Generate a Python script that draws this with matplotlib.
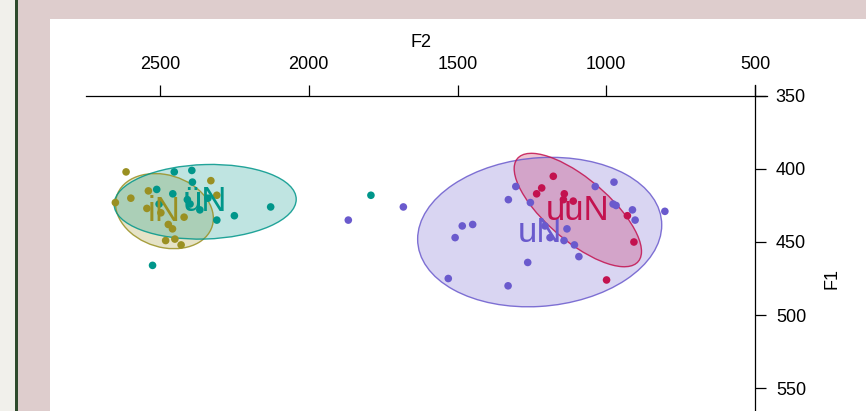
import numpy as np
import matplotlib.pyplot as plt
from matplotlib.patches import Ellipse, Rectangle

plt.rcParams['font.family'] = ['Liberation Sans', 'DejaVu Sans']

# vowel tokens (F2, F1 in Hz)
vowels = ['iN', 'üN', 'uN', 'uuN']
colors = ['#9a9022', '#00968a', '#6a5acd', '#c3124f']

f2_iN = [2614, 2598, 2650, 2539, 2544, 2497, 2329, 2309, 2472, 2458, 2481, 2450, 2429, 2419]
f1_iN = [402, 420, 423, 415, 427, 430, 408, 418, 438, 441, 449, 448, 452, 433]

f2_uumlN = [2452, 2393, 2391, 2511, 2457, 2408, 2503, 2309, 2250, 2128, 2525, 1791,
            2399, 2366, 2339]
f1_uumlN = [402, 401, 409, 414, 417, 421, 424, 435, 432, 426, 466, 418,
            424, 428, 420]

f2_uN = [1682, 1867, 1304, 1329, 1255, 1484, 1449, 1508, 1264, 1531, 1330, 1206,
         1132, 1189, 1142, 1107, 1092, 1037, 974, 977, 967, 912, 903, 803, 1150]
f1_uN = [426, 435, 412, 421, 423, 439, 438, 447, 464, 475, 480, 439,
         441, 447, 449, 452, 460, 412, 409, 424, 425, 428, 435, 429, 570]

f2_uuN = [1178, 1217, 1234, 1141, 1144, 1111, 929, 907, 999]
f1_uuN = [405, 413, 417, 417, 421, 422, 432, 450, 476]

f2_data = [f2_iN, f2_uumlN, f2_uN, f2_uuN]
f1_data = [f1_iN, f1_uumlN, f1_uN, f1_uuN]

f2_ticks = [2500, 2000, 1500, 1000, 500]
f1_ticks = [350, 400, 450, 500, 550]

W, H = 866, 411
fig = plt.figure(figsize=(W / 100, H / 100), dpi=100, facecolor='#decdcd')

# page frame behind the plot
fig.add_artist(Rectangle((0, 0), 15 / W, 1, transform=fig.transFigure,
                         facecolor='#f1f0eb', edgecolor='none', zorder=-3))
fig.add_artist(Rectangle((15 / W, 0), 2.5 / W, 1, transform=fig.transFigure,
                         facecolor='#2e4a2c', edgecolor='none', zorder=-3))
fig.add_artist(Rectangle((50 / W, 0), 1, (H - 19) / H, transform=fig.transFigure,
                         facecolor='white', edgecolor='none', zorder=-3))

# plot region in pixels: left 86, right 767, top 85, bottom 471
ax = fig.add_axes([86 / W, (H - 471) / H, 681 / W, 386 / H])
ax.set_facecolor('none')


def ellipse_for(x, y, p=0.6827):
    n = len(x)
    cov = np.cov(x, y)
    d2 = n - 2
    fq = d2 / 2 * ((1 - p) ** (-2 / d2) - 1)
    r = np.sqrt(2 * (n - 1) / (n - 2) * fq)
    vals, vecs = np.linalg.eigh(cov)
    angle = np.degrees(np.arctan2(vecs[1, 1], vecs[0, 1]))
    return (np.mean(x), np.mean(y)), 2 * r * np.sqrt(vals[1]), 2 * r * np.sqrt(vals[0]), angle


for f2, f1, c in zip(f2_data, f1_data, colors):
    center, w, h, ang = ellipse_for(np.array(f2, float), np.array(f1, float))
    ax.add_patch(Ellipse(center, w, h, angle=ang, facecolor=c, alpha=0.25,
                         edgecolor='none', zorder=1))
    ax.add_patch(Ellipse(center, w, h, angle=ang, facecolor='none',
                         edgecolor=c, alpha=0.85, lw=1.0, zorder=2))

for f2, f1, c in zip(f2_data, f1_data, colors):
    ax.scatter(f2, f1, s=30, color=c, edgecolors='none', zorder=3)

for v, f2, f1, c in zip(vowels, f2_data, f1_data, colors):
    ax.text(np.mean(f2), np.mean(f1), v, color=c, fontsize=25,
            ha='center', va='center', zorder=4)

ax.set_xlim(2748.7, 459.7)
ax.set_ylim(606.8, 342.5)

for side in ['left', 'bottom']:
    ax.spines[side].set_visible(False)
ax.spines['top'].set_position(('data', 350))
ax.spines['right'].set_position(('data', 500))
for side in ['top', 'right']:
    ax.spines[side].set_linewidth(0.9)

ax.xaxis.tick_top()
ax.yaxis.tick_right()
ax.set_xticks(f2_ticks)
ax.set_yticks(f1_ticks)
ax.tick_params(axis='x', direction='out', length=8, width=0.9, pad=8.5, labelsize=13)
ax.tick_params(axis='y', direction='out', length=8, width=0.9, pad=7, labelsize=13)

ax.xaxis.set_label_position('top')
ax.set_xlabel('F2', fontsize=13, va='center')
ax.xaxis.set_label_coords((421 - 86) / 681, (471 - 42) / 386)
ax.yaxis.set_label_position('right')
ax.set_ylabel('F1', fontsize=13, rotation=90, va='center', ha='center')
ax.yaxis.set_label_coords((832 - 86) / 681, (471 - 278) / 386)

fig.savefig('out.png', dpi=100, facecolor=fig.get_facecolor())
